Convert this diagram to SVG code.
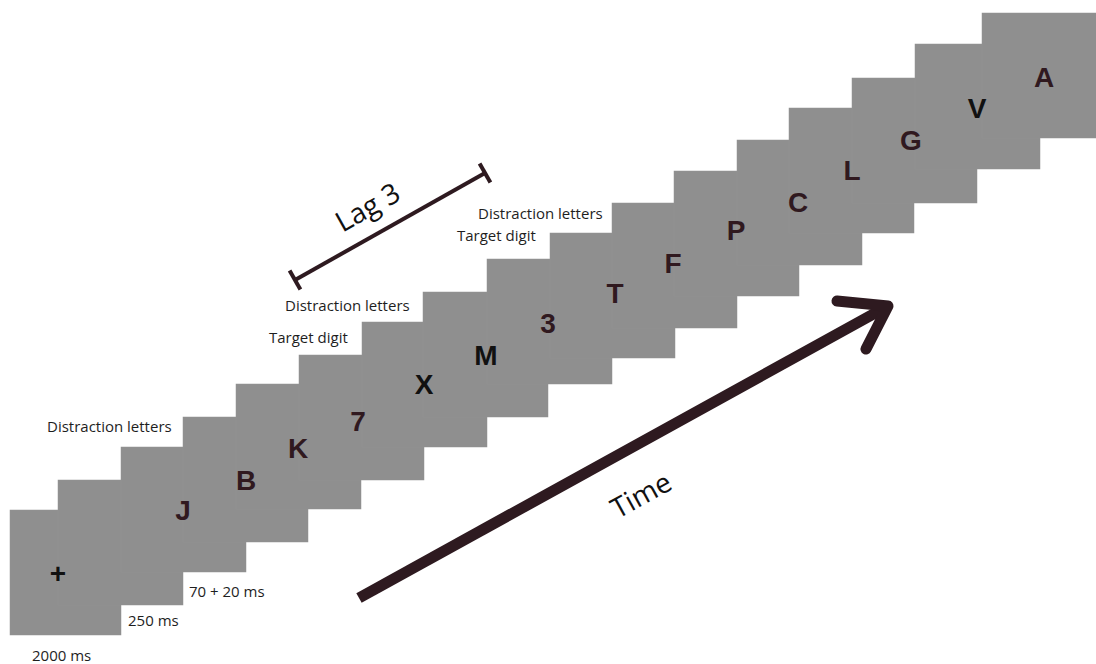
<svg xmlns="http://www.w3.org/2000/svg" width="1096" height="664" viewBox="0 0 1096 664">
<style>
.scr{fill:#8f8f8f;stroke:#939393;stroke-width:0.5}
.ltr{font-family:"Liberation Sans",Arial,sans-serif;font-weight:bold;font-size:28px;text-anchor:middle;fill:#30191f}
.blk{fill:#111111}
.lbl{font-family:"Open Sans","Noto Sans",sans-serif;font-size:15px;fill:#1e1e1e}
.big{font-family:"Open Sans","Noto Sans",sans-serif;font-size:28px;fill:#111111;text-anchor:middle}
.ink{stroke:#2e1a20;fill:none}
</style>
<rect width="1096" height="664" fill="#ffffff"/>
<g id="screens">
<g id="screen-1"><rect class="scr" x="10" y="510" width="111" height="125"/></g>
<g id="screen-2"><rect class="scr" x="58" y="480" width="125" height="125"/></g>
<g id="screen-3"><rect class="scr" x="121" y="447" width="125" height="125"/></g>
<g id="screen-4"><rect class="scr" x="183" y="417" width="125" height="125"/></g>
<g id="screen-5"><rect class="scr" x="236" y="384" width="125" height="125"/></g>
<g id="screen-6"><rect class="scr" x="299" y="355" width="125" height="125"/></g>
<g id="screen-7"><rect class="scr" x="362" y="322" width="125" height="125"/></g>
<g id="screen-8"><rect class="scr" x="423" y="292" width="125" height="125"/></g>
<g id="screen-9"><rect class="scr" x="487" y="259" width="125" height="125"/></g>
<g id="screen-10"><rect class="scr" x="550" y="233" width="125" height="125"/></g>
<g id="screen-11"><rect class="scr" x="612" y="203" width="125" height="125"/></g>
<g id="screen-12"><rect class="scr" x="674" y="171" width="125" height="125"/></g>
<g id="screen-13"><rect class="scr" x="737" y="140" width="125" height="125"/></g>
<g id="screen-14"><rect class="scr" x="789" y="108" width="125" height="125"/></g>
<g id="screen-15"><rect class="scr" x="852" y="78" width="125" height="125"/></g>
<g id="screen-16"><rect class="scr" x="915" y="44" width="125" height="125"/></g>
<g id="screen-17"><rect class="scr" x="982" y="13" width="125" height="125"/></g>
</g>
<g id="stimuli">
<text id="s-plus" class="ltr blk" x="58" y="583">+</text>
<text id="s-J" class="ltr" x="183" y="520">J</text>
<text id="s-B" class="ltr" x="246" y="490">B</text>
<text id="s-K" class="ltr" x="298" y="458">K</text>
<text id="s-7" class="ltr" x="358" y="431">7</text>
<text id="s-X" class="ltr blk" x="424" y="394">X</text>
<text id="s-M" class="ltr blk" x="486" y="365">M</text>
<text id="s-3" class="ltr" x="548" y="333">3</text>
<text id="s-T" class="ltr" x="615" y="303">T</text>
<text id="s-F" class="ltr" x="673" y="273">F</text>
<text id="s-P" class="ltr" x="736" y="240">P</text>
<text id="s-C" class="ltr" x="798" y="212">C</text>
<text id="s-L" class="ltr" x="852" y="180">L</text>
<text id="s-G" class="ltr" x="911" y="150">G</text>
<text id="s-V" class="ltr blk" x="977" y="118">V</text>
<text id="s-A" class="ltr" x="1044" y="87">A</text>
</g>
<g id="labels">
<text class="lbl" x="32" y="661">2000 ms</text>
<text class="lbl" x="128" y="626">250 ms</text>
<text class="lbl" x="189" y="597">70 + 20 ms</text>
<text class="lbl" x="47" y="432">Distraction letters</text>
<text class="lbl" x="269" y="343">Target digit</text>
<text class="lbl" x="285" y="311">Distraction letters</text>
<text class="lbl" x="457" y="241">Target digit</text>
<text class="lbl" x="478" y="219">Distraction letters</text>
</g>
<g id="connectors">
<g id="lag">
<line class="ink" x1="295" y1="280" x2="485" y2="173" stroke-width="4"/>
<line class="ink" x1="289.6" y1="270.4" x2="300.4" y2="289.6" stroke-width="4"/>
<line class="ink" x1="479.6" y1="163.4" x2="490.4" y2="182.6" stroke-width="4"/>
<text class="big" transform="translate(368,208) rotate(-29.4)" y="9">Lag 3</text>
</g>
<g id="time-arrow">
<line class="ink" x1="359" y1="598" x2="888" y2="306" stroke-width="11"/>
<path class="ink" d="M837,301 L888,306 L866,349" stroke-width="11" stroke-linecap="round" stroke-linejoin="round"/>
<text class="big" transform="translate(641,495) rotate(-28.8)" y="10">Time</text>
</g>
</g>
</svg>
